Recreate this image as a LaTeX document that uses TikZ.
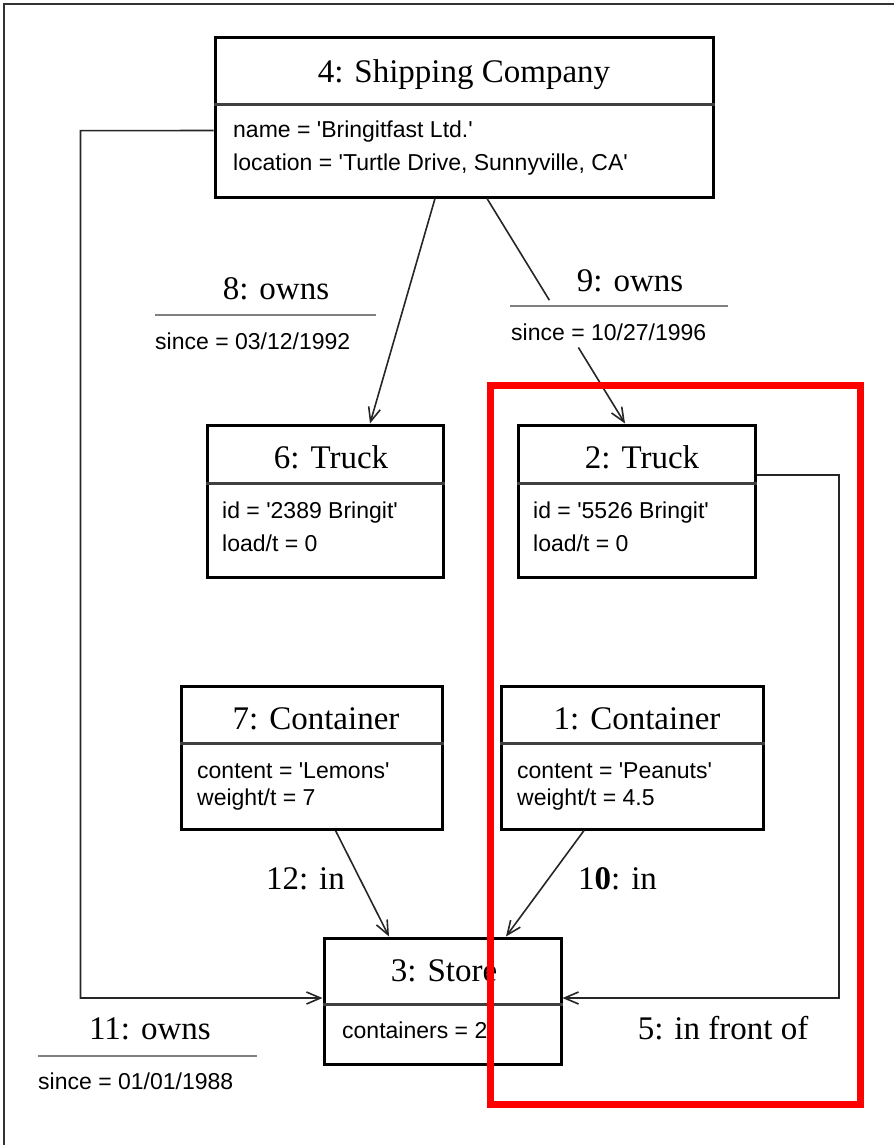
\documentclass[tikz,border=0pt]{standalone}
\usepackage{fontspec}
\usetikzlibrary{arrows.meta,calc}
\newfontfamily\serifL{Liberation Serif}
\newfontfamily\sansL[Ligatures=TeXOff]{Liberation Sans}
\tikzset{
  objbox/.style={draw=black, line width=3pt, inner sep=0pt, fill=white},
  divider/.style={draw=black!75, line width=2.6pt},
  conn/.style={draw=black!85, line width=1.6pt},
  arr/.style={-{Straight Barb[length=14pt,width=12pt,line width=1.6pt]}},
  ttl/.style={font=\serifL\fontsize{33}{33}\selectfont, inner sep=0pt, anchor=base},
  att/.style={font=\sansL\fontsize{23}{23}\selectfont, inner sep=0pt, anchor=base west},
  uline/.style={draw=black!50, line width=2.7pt},
  frame/.style={draw=black!80, line width=2pt},
  hilite/.style={draw=red, line width=7pt},
}
\begin{document}
\begin{tikzpicture}[x=1pt,y=-1pt]
\useasboundingbox (0,0) rectangle (894,1145);
\draw[frame] (4,1145) -- (4,4) -- (894,4);

% object boxes
\node[objbox, minimum width=498pt, minimum height=159pt] (sc) at (464,117.5) {};
\node[objbox, minimum width=236pt, minimum height=152pt] (t6) at (325,501) {};
\node[objbox, minimum width=237pt, minimum height=152pt] (t2) at (636.5,501) {};
\node[objbox, minimum width=261pt, minimum height=143pt] (c7) at (311.5,757.5) {};
\node[objbox, minimum width=262pt, minimum height=143pt] (c1) at (632,757.5) {};
\node[objbox, minimum width=237pt, minimum height=126pt] (st) at (442.5,1001) {};

% dividers
\draw[divider] ([yshift=-68pt]sc.north west) -- ([yshift=-68pt]sc.north east);
\draw[divider] ([yshift=-60pt]t6.north west) -- ([yshift=-60pt]t6.north east);
\draw[divider] ([yshift=-60pt]t2.north west) -- ([yshift=-60pt]t2.north east);
\draw[divider] ([yshift=-59pt]c7.north west) -- ([yshift=-59pt]c7.north east);
\draw[divider] ([yshift=-59pt]c1.north west) -- ([yshift=-59pt]c1.north east);
\draw[divider] ([yshift=-68pt]st.north west) -- ([yshift=-68pt]st.north east);

% titles
\node[ttl] (sct) at (464,83) {4: Shipping Company};
\node[ttl] (t6t) at (331,468) {6: Truck};
\node[ttl] (t2t) at (642,468) {2: Truck};
\node[ttl] (c7t) at (316,729) {7: Container};
\node[ttl] (c1t) at (637,729) {1: Container};
\node[ttl] (stt) at (444,981) {3: Store};

% attributes
\node[att] (sca1) at (233,138) {name = 'Bringitfast Ltd.'};
\node[att] (sca2) at (233,170) {location = 'Turtle Drive, Sunnyville, CA'};
\node[att] (t6a1) at (222,518) {id = '2389 Bringit'};
\node[att] (t6a2) at (222,551) {load/t = 0};
\node[att] (t2a1) at (533,518) {id = '5526 Bringit'};
\node[att] (t2a2) at (533,551) {load/t = 0};
\node[att] (c7a1) at (197,778) {content = 'Lemons'};
\node[att] (c7a2) at (197,805) {weight/t = 7};
\node[att] (c1a1) at (517,778) {content = 'Peanuts'};
\node[att] (c1a2) at (517,805) {weight/t = 4.5};
\node[att] (sta1) at (342,1038) {containers = 2};

% links
\draw[conn,arr] ([xshift=-29pt]sc.south) -- ([xshift=45pt]t6.north);
\coordinate (a9) at ([xshift=23pt]sc.south);
\coordinate (b9) at ([xshift=-11.5pt]t2.north);
\draw[conn] (a9) -- ($(a9)!0.452!(b9)$);
\draw[conn,arr] ($(a9)!0.662!(b9)$) -- (b9);
\draw[conn,arr] ([xshift=24pt]c7.south) -- ([xshift=-53.5pt]st.north);
\draw[conn,arr] ([xshift=-48pt]c1.south) -- ([xshift=63.5pt]st.north);
\coordinate (k11) at (80.5,130.7);
\draw[conn,arr] ([yshift=-13pt]sc.west) -- (k11) |- ([yshift=3pt]st.west);
\coordinate (k5) at (839,475);
\draw[conn,arr] ([yshift=26pt]t2.east) -- (k5) |- ([yshift=3pt]st.east);

% link labels
\node[ttl] (l8) at (276,299) {8: owns};
\coordinate (u8a) at (155,315); \coordinate (u8b) at (376,315);
\draw[uline] (u8a) -- (u8b);
\node[att] (l8s) at (155,349) {since = 03/12/1992};

\node[ttl] (l9) at (630,291) {9: owns};
\coordinate (u9a) at (510,306); \coordinate (u9b) at (728,306);
\draw[uline] (u9a) -- (u9b);
\node[att] (l9s) at (511,340) {since = 10/27/1996};

\node[ttl] (l11) at (150,1039) {11: owns};
\coordinate (u11a) at (38,1056); \coordinate (u11b) at (257,1056);
\draw[uline] (u11a) -- (u11b);
\node[att] (l11s) at (38,1089) {since = 01/01/1988};

\node[ttl] (l5) at (723,1039) {5: in front of};
\node[ttl] (l12) at (305.5,889) {12: in};
\node[ttl] (l10) at (617.5,889) {1\textbf{0}: in};

% highlight
\draw[hilite] (490.5,385.5) rectangle (860,1104.5);
\end{tikzpicture}
\end{document}
